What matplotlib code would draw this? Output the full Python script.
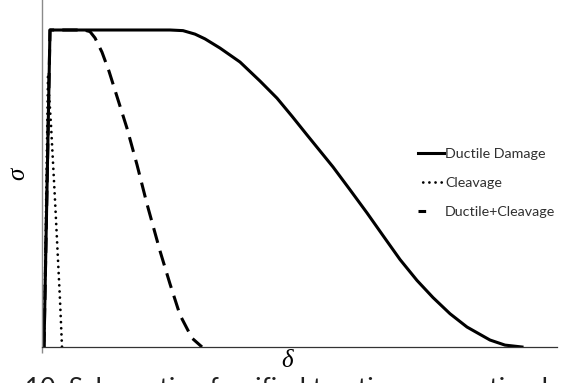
import matplotlib
matplotlib.use("Agg")
import matplotlib.pyplot as plt
from matplotlib.lines import Line2D

# traction-separation curves, delta and normalised sigma
ductile_delta = [0.02, 0.08, 1.28, 1.41, 1.53, 1.63, 1.78, 1.98, 2.18, 2.35, 2.50,
                 2.65, 2.91, 3.08, 3.25, 3.42, 3.58, 3.75, 3.91, 4.08, 4.25, 4.48,
                 4.63, 4.80]
ductile_sigma = [0.0, 1.0, 1.0, 0.998, 0.987, 0.972, 0.943, 0.899, 0.839, 0.785, 0.728,
                 0.669, 0.568, 0.496, 0.423, 0.347, 0.276, 0.210, 0.156, 0.105, 0.063,
                 0.022, 0.006, 0.0]

cleavage_delta = [0.02, 0.06, 0.09, 0.13, 0.18, 0.20]
cleavage_sigma = [0.0, 0.852, 0.70, 0.464, 0.148, 0.0]

mixed_delta = [0.02, 0.08, 0.42, 0.48, 0.53, 0.60, 0.67, 0.75, 0.85, 0.95, 1.05,
               1.18, 1.28, 1.38, 1.50, 1.60]
mixed_sigma = [0.0, 1.0, 1.0, 0.995, 0.975, 0.930, 0.870, 0.790, 0.690, 0.575, 0.451,
               0.303, 0.199, 0.101, 0.028, 0.0]

labels = ["Ductile Damage", "Cleavage", "Ductile+Cleavage"]
caption = "10: Schematic of unified traction-separation law"

W, H = 565, 383
fig = plt.figure(figsize=(W / 100, H / 100), dpi=100)
ax = fig.add_axes([42 / W, (H - 347) / H, (557 - 42) / W, 347 / H])

dotted = (0, (0.01, 2.2))
ax.plot(ductile_delta, ductile_sigma, color="black", lw=2.2, solid_joinstyle="round")
ax.plot(cleavage_delta, cleavage_sigma, color="black", lw=2.0,
        linestyle=dotted, dash_capstyle="round")
ax.plot(mixed_delta, mixed_sigma, color="black", lw=2.2,
        linestyle=(0, (5, 2.7)), dash_capstyle="butt")

ax.set_xlim(0, 5.15)
ax.set_ylim(0, 347 / 317)
for side in ("top", "right"):
    ax.spines[side].set_visible(False)
ax.spines["left"].set_color("#8a8a8a")
ax.spines["left"].set_linewidth(1.0)
ax.spines["bottom"].set_color("#333333")
ax.spines["bottom"].set_linewidth(0.9)
ax.set_xticks([0])
ax.set_xticklabels([])
ax.set_yticks([])
ax.tick_params(axis="x", direction="out", length=4, width=1.0, color="#8a8a8a")

ax.text(-24 / 515, 0.5, "σ", transform=ax.transAxes, rotation=90,
        family="Liberation Serif", style="italic", fontsize=18,
        ha="center", va="center")
fig.text(287 / W, 1 - 361 / H, "δ", family="Liberation Serif", style="italic",
         fontsize=18, ha="center", va="center")

handles = [
    Line2D([], [], color="black", lw=2.2),
    Line2D([], [], color="black", lw=2.0, linestyle=(0.5, (0.01, 2.2)),
           dash_capstyle="round"),
    Line2D([], [], color="black", lw=2.2, linestyle=(1, (3.5, 20))),
]
leg = fig.legend(handles, labels, loc="upper left",
                 bbox_to_anchor=(418 / W, 1 - 148 / H), frameon=False,
                 prop={"family": "Lato", "size": 10.3}, handlelength=1.8,
                 handletextpad=0.1, labelspacing=1.2, borderpad=0, borderaxespad=0)
for t in leg.get_texts():
    t.set_color("#303030")

fig.text(25 / W, 1 - 377 / H, caption, family="Lato", fontsize=19,
         color="#202020", ha="left", va="top")

fig.savefig("out.png", dpi=100)
